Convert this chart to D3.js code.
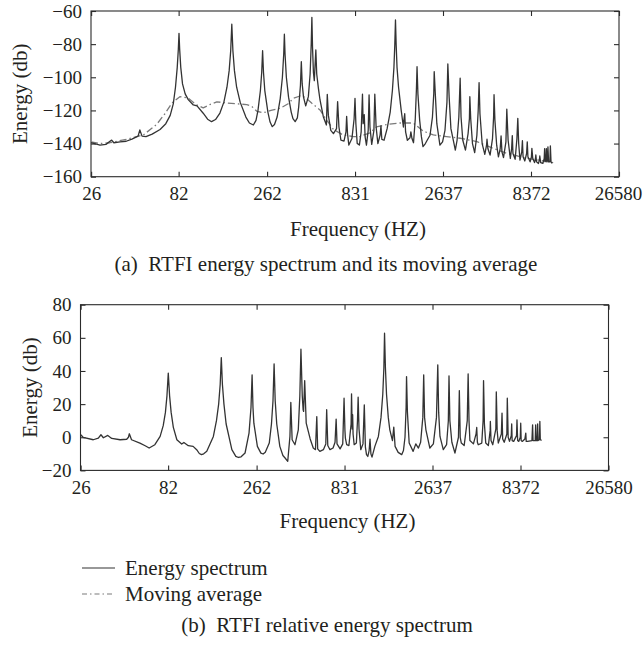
<!DOCTYPE html>
<html><head><meta charset="utf-8">
<script src="https://cdn.jsdelivr.net/npm/d3@7/dist/d3.min.js"></script>
<style>
body{margin:0;background:#fff}
svg{display:block}
text{font-family:"Liberation Serif","Times New Roman",serif;fill:#231f20}
</style>
</head><body>
<svg id="c" width="643" height="648"></svg>
<script>
// ---- data (x as pitch in MIDI note numbers; frequency = 440*2^((p-69)/12) Hz) ----
const tickHz = [26, 82, 262, 831, 2637, 8372, 26580];
const tickLabels = ["26", "82", "262", "831", "2637", "8372", "26580"];
const yTicksA = [-160, -140, -120, -100, -80, -60];
const yTicksB = [-20, 0, 20, 40, 60, 80];
const legendLabels = ["Energy spectrum", "Moving average"];
const captionA = "(a)\u2002RTFI energy spectrum and its moving average";
const captionB = "(b)\u2002RTFI relative energy spectrum";

// (a) energy spectrum [pitch, dB]
const spectrum = [
[20.0,-139.5],[22.05,-140.9],[23.4,-140.5],[24.7,-137.9],[25.2,-139.5],[26.6,-139],[28.0,-138.6],[29.3,-137.3],
[30.7,-135.5],[31.1,-131.8],[31.6,-135.5],[32.5,-135.8],[33.9,-134.3],[35.7,-131.5],[37.0,-128],[38.0,-123],
[38.7,-116],[39.2,-106],[39.6,-94],[39.85,-83],[40.0,-73.5],[40.15,-83],[40.4,-94],[40.8,-104],[41.4,-110],
[42.1,-113.5],[43.25,-116.7],[44.1,-117.3],[45.5,-121.7],[46.5,-125.3],[47.4,-126.8],[48.3,-125.5],[49.3,-121.6],
[50.2,-115],[50.9,-106],[51.4,-96],[51.75,-84],[52.0,-68],[52.25,-84],[52.6,-96],[53.1,-106],[53.9,-115],[55.2,-124],
[56.0,-127.6],[56.9,-128.8],[57.5,-126],[57.95,-120],[58.5,-108],[58.8,-97],[59.0,-84],[59.2,-97],[59.5,-108],
[60.2,-121],[60.7,-127],[61.2,-129.8],[61.7,-128.5],[62.3,-124],[63.0,-113],[63.5,-100],[63.8,-86],[63.95,-74],
[64.1,-86],[64.4,-100],[64.9,-112],[65.5,-121],[65.9,-125],[66.4,-126.8],[66.9,-124.5],[67.2,-118],[67.6,-105],
[67.8,-90.6],[68.0,-104],[68.3,-112],[68.8,-117.3],[69.4,-111.7],[69.8,-98],[70.05,-80],
[70.2,-63.8],[70.35,-82],[70.55,-97],[70.75,-102],[71.1,-83.5],[71.3,-98],[71.7,-107],[72.05,-113.7],[72.8,-123.8],
[73.5,-128.8],[73.7,-110.3],[73.95,-123],[74.5,-132],[75.1,-134],[75.8,-131],[76.05,-114.7],[76.35,-130],[76.8,-138],
[77.5,-138.5],[77.95,-133],[78.1,-123.6],[78.3,-134],[78.6,-140.9],[79.3,-137],[79.8,-125],[80.0,-112.7],[80.2,-128],
[80.5,-139.9],[81.0,-140.9],[81.4,-133],[81.7,-110.2],[81.85,-128],[81.95,-126],[82.1,-122.5],[82.3,-136],[82.6,-140.9],
[83.0,-132],[83.2,-110.6],[83.4,-130],[83.8,-140.5],[84.3,-132],[84.5,-110.2],[84.8,-130],[85.2,-140],[85.7,-135],
[85.9,-129.3],[86.1,-137.5],[86.6,-138],[87.3,-131],[88.0,-121],[88.5,-108],[88.85,-94],[89.05,-80],[89.2,-65.4],
[89.35,-80],[89.55,-94],[89.9,-106],[90.5,-120],[91.0,-130],[91.1,-126],[91.3,-122],[91.5,-133],[91.9,-138],[92.5,-136.5],[92.7,-133],
[92.95,-137],[93.3,-139.5],[93.7,-125],[93.95,-108],[94.1,-93.6],[94.3,-110],[94.7,-126],[95.1,-136],[95.45,-141.9],
[96.0,-140],[96.4,-138],[97.05,-135],[97.6,-124],[97.9,-110],[98.0,-96.6],[98.25,-110],[98.6,-128],[99.3,-141],
[99.9,-139],[100.45,-132],[100.9,-115],[101.1,-92],[101.4,-112],[101.8,-131],[102.5,-140],[102.8,-144],[103.2,-138],
[103.6,-124],[103.9,-100.6],[104.1,-124],[104.5,-138],[105.1,-144],[105.7,-134],[106.0,-125],[106.1,-111.7],[106.3,-125],
[106.7,-140],[107.2,-145.5],[107.7,-135],[108.0,-120],[108.2,-103.2],[108.4,-122],[108.9,-140],[109.5,-146.5],
[109.9,-141],[110.0,-137.4],[110.2,-143],[110.7,-147],[111.25,-137],[111.5,-124],[111.6,-110.5],[111.8,-126],
[112.2,-141],[112.6,-148],[113.0,-143],[113.2,-135.4],[113.4,-145],[113.75,-148.5],[114.3,-139],[114.5,-119.3],
[114.8,-138],[115.3,-149],[115.6,-143],[115.75,-135.2],[115.9,-146],[116.4,-149.5],[116.8,-137],[117.0,-124.8],
[117.2,-140],[117.5,-150],[117.9,-145],[118.05,-138.3],[118.2,-148],[118.6,-150.5],[119.0,-146],[119.15,-139],
[119.3,-148],[119.8,-151],[120.1,-148],[120.2,-142.9],[120.4,-149],[120.8,-151.5],[121.0,-149.5],[121.1,-146.9],
[121.25,-151],[121.7,-152],[121.9,-150],[122.0,-147.5],[122.2,-151.5],[122.7,-152],[123.0,-149],[123.1,-143],
[123.2,-151],[123.4,-150],[123.5,-143],[123.6,-151],[123.75,-150],[123.85,-142],[124.0,-151],[124.3,-151],
[124.4,-141.4],[124.55,-151],[124.8,-152]
];

// (a) moving average [pitch, dB]
const movingAverage = [
[20.0,-139],[22.05,-140],[24.3,-139.5],[28.1,-137.4],[31.9,-134.8],[34.9,-128.5],[36.8,-122],[38.4,-115.5],
[40.2,-111.7],[42.05,-112.5],[43.9,-116.5],[45.5,-118.5],[47.0,-116.5],[48.6,-114.8],[50.8,-115.5],[53.1,-116],
[55.4,-116.5],[56.5,-117.5],[57.7,-120.5],[59.2,-121.4],[60.9,-120],[63.0,-118.7],[64.8,-116],[66.0,-112.7],
[67.5,-111.3],[68.6,-112],[70.2,-115.7],[72.05,-119.7],[73.6,-126],[75.1,-131.5],[77.3,-134.8],[79.6,-135.8],
[81.1,-135.8],[83.4,-133.5],[84.9,-130],[87.2,-128.5],[90.2,-127.6],[93.25,-127.6],[95.5,-132.5],[97.8,-134.8],
[100.8,-135.8],[103.9,-136.8],[107.7,-138.8],[111.4,-142.9],[114.5,-145.9],[117.5,-147.9],[120.5,-149.5],[125.1,-151.5]
];

// (b) relative energy spectrum [pitch, dB]
const relative = [
[20.05,1.5],[20.6,0],[22.9,-1.5],[24.05,-0.5],[24.65,1.5],[25.2,-0.3],[26.2,1.1],[27.1,-0.7],[29.0,-1.5],[30.5,-1.2],
[30.9,0],[31.1,2.1],[31.6,-1.5],[33.5,-3.5],[34.7,-5.1],[35.6,-6.5],[36.9,-4.5],[38.1,0.5],[38.8,7],[39.3,15],
[39.65,25],[39.95,38.7],[40.25,25],[40.6,15],[41.1,6],[41.9,-1.5],[43.0,-4.1],[43.5,-3.1],[44.5,-5.1],[45.6,-5.5],
[46.4,-7.5],[47.0,-9.8],[47.5,-10.5],[48.0,-10],[48.7,-8.5],[50.2,0.5],[50.9,10],[51.4,20],[51.75,32],[52.0,48.1],
[52.25,32],[52.6,20],[53.1,8],[54.4,-7.5],[55.3,-11.5],[55.9,-12.2],[56.5,-11.8],[57.4,-9.5],[58.3,2.5],[58.75,18],
[59.0,37.7],[59.2,18],[59.4,8.5],[60.2,-5.5],[61.0,-9.6],[61.5,-10.1],[62.0,-9],[62.9,-3.5],[63.4,8],[63.75,22],
[64.0,44.3],[64.25,22],[64.6,8],[65.3,-5.5],[66.0,-11],[66.5,-12.5],[67.1,-14.5],
[67.6,0.5],[67.8,21],[68.1,-1.5],[68.75,-4.5],[69.5,4.5],[69.85,25],[70.1,53.1],[70.4,25],[70.6,16.6],[70.7,15.6],
[70.95,34.2],[71.3,8.5],[72.2,-1],[72.9,-6.5],[73.4,-7.5],[73.7,12.5],[73.9,-7],[74.4,-8.5],[75.2,-7.5],[75.75,-4],
[75.95,16.6],[76.2,-5],[76.7,-7.5],[77.4,-6.5],[77.85,-3],[78.1,11],[78.3,-4],[79.0,-7],[79.6,-4],[79.9,23.6],
[80.1,4],[80.2,-0.5],[80.5,-4.5],[81.0,-5],[81.5,8],[81.6,26.2],[81.75,5],[81.85,13.6],[81.95,2],[82.2,-4.5],
[82.7,-3.5],[82.95,10],[83.1,24.2],[83.3,5],[83.7,-7.5],[84.2,-4],[84.5,19.6],[84.75,-6],[85.0,-10.5],[85.3,-11.6],
[85.6,-8],[85.8,-1.1],[86.0,-10],[86.25,-12],[86.9,-5.5],[87.7,0.5],[88.3,12],[88.7,26],[88.95,42],[89.1,62.8],
[89.3,42],[89.55,26],[89.95,12],[90.3,4.5],[90.9,-2],[91.2,6.1],[91.5,-5.5],[92.2,-9.1],[93.0,-10.5],[93.4,-8],
[93.75,0],[94.0,18],[94.1,36.6],[94.3,15],[94.7,-3.5],[95.6,-8.5],[96.2,-4],[96.8,-6.5],[97.3,-3],[97.8,12],
[98.0,37.7],[98.2,12],[98.5,4.5],[99.4,-6.5],[100.2,-4],[100.9,12],[101.2,43.7],[101.4,15],[101.7,0.5],[102.45,-7.5],
[103.2,-4.5],[103.6,10],[103.75,37.1],[103.95,10],[104.4,-3],[105.1,-9.5],[105.9,0],[106.1,28.2],[106.3,0],
[106.55,-3.5],[107.2,-5],[107.9,10],[108.1,38.3],[108.3,10],[108.5,-2],[109.3,-4],[109.9,2],[110.05,5.9],[110.2,-3],
[110.4,-4.5],[111.2,-3.5],[111.5,10],[111.6,34.2],[111.8,8],[112.1,-3.5],[112.7,-5],[113.1,4],[113.15,9.5],[113.3,-2],
[113.7,-4.5],[114.4,5],[114.5,27.4],[114.7,4],[114.95,-3.5],[115.65,2],[115.8,14.6],[115.95,-1],[116.3,-3],[116.9,2],
[117.0,23.6],[117.2,0],[117.5,-2.5],[117.9,1],[118.0,8],[118.1,-2],[118.45,-2.5],[119.1,1],[119.2,10.5],[119.35,-2],
[119.6,-2.5],[119.95,0],[120.05,8.5],[120.15,-2],[120.4,-2.5],[121.0,-1],[121.2,2.5],[121.3,-2.5],[121.6,-2.5],
[122.6,-2],[122.75,7.5],[122.85,-2],[123.35,-2],[123.45,7.5],[123.55,-2],[123.8,-2],[123.9,8],[124.0,-2],[124.3,-1.5],
[124.4,9.5],[124.5,-1.5],[124.8,-1.9]
];

const pitchToHz = p => 440 * Math.pow(2, (p - 69) / 12);

const svg = d3.select("#c");
const FS_TICK = 19, FS_LABEL = 21;
const INK = "#2b2b2b";

function panel(opt) {
  const g = svg.append("g");
  const x = d3.scaleLog().domain([pitchToHz(20), pitchToHz(140)]).range([opt.left, opt.right]);
  const y = d3.scaleLinear().domain(opt.yDomain).range([opt.bottom, opt.top]);

  g.append("rect").attr("x", opt.left).attr("y", opt.top)
    .attr("width", opt.right - opt.left).attr("height", opt.bottom - opt.top)
    .attr("fill", "none").attr("stroke", INK).attr("stroke-width", 1.1);

  const xb = d3.axisBottom(x).tickValues(tickHz).tickFormat((d, i) => tickLabels[i])
    .tickSizeInner(-5).tickSizeOuter(0).tickPadding(10);
  const xt = d3.axisTop(x).tickValues(tickHz).tickFormat("").tickSizeInner(-5).tickSizeOuter(0);
  const yl = d3.axisLeft(y).tickValues(opt.yTicks).tickFormat(d => d < 0 ? "\u2212" + Math.abs(d) : String(d))
    .tickSizeInner(-5).tickSizeOuter(0).tickPadding(9);
  const yr = d3.axisRight(y).tickValues(opt.yTicks).tickFormat("").tickSizeInner(-5).tickSizeOuter(0);

  const axes = [
    [xb, `translate(0,${opt.bottom})`], [xt, `translate(0,${opt.top})`],
    [yl, `translate(${opt.left},0)`], [yr, `translate(${opt.right},0)`]
  ];
  axes.forEach(([ax, tr], k) => {
    const a = g.append("g").attr("transform", tr).call(ax);
    a.select(".domain").remove();
    a.selectAll("line").attr("stroke", INK).attr("stroke-width", 1.1);
    a.selectAll("text").style("font-family", '"Liberation Serif","Times New Roman",serif')
      .style("font-size", FS_TICK + "px").attr("fill", "#231f20");
    if (k === 0) a.selectAll("text").filter((d, i) => i === tickHz.length - 1).attr("dx", opt.lastDx || 0);
  });

  const line = d3.line().x(d => x(pitchToHz(d[0]))).y(d => y(d[1]));
  opt.series.forEach(s => {
    g.append("path").datum(s.data).attr("d", line).attr("fill", "none")
      .attr("stroke", s.color).attr("stroke-width", s.width)
      .attr("stroke-dasharray", s.dash || null).attr("stroke-linejoin", "round");
  });

  g.append("text").attr("transform", `translate(${opt.ylabelX},${(opt.top + opt.bottom) / 2}) rotate(-90)`)
    .attr("text-anchor", "middle").style("font-size", FS_LABEL + "px").text("Energy (db)");
  g.append("text").attr("x", (opt.left + opt.right) / 2 + 3).attr("y", opt.xlabelY)
    .attr("text-anchor", "middle").style("font-size", FS_LABEL + "px").text("Frequency (HZ)");
  return { x, y };
}

const dashDot = "7,3,1.5,3";

panel({
  left: 91, right: 619, top: 11, bottom: 176.7, yDomain: [-160, -60], yTicks: yTicksA,
  ylabelX: 27, xlabelY: 236, lastDx: -1,
  series: [
    { data: movingAverage, color: "#7a7a7a", width: 1.3, dash: dashDot },
    { data: spectrum, color: "#333", width: 1.3 }
  ]
});

panel({
  left: 80.5, right: 608.5, top: 304.7, bottom: 470.4, yDomain: [-20, 80], yTicks: yTicksB,
  ylabelX: 37, xlabelY: 528,
  series: [{ data: relative, color: "#333", width: 1.3 }]
});

svg.append("text").attr("x", 326).attr("y", 271).attr("text-anchor", "middle")
  .style("font-size", FS_LABEL + "px").text(captionA);
svg.append("text").attr("x", 327).attr("y", 632).attr("text-anchor", "middle")
  .style("font-size", FS_LABEL + "px").text(captionB);

const legend = svg.append("g");
const legendStyles = [{ color: "#333", dash: null }, { color: "#7a7a7a", dash: "5,3,1.5,3" }];
legendLabels.forEach((lab, i) => {
  const yy = 568 + i * 26;
  legend.append("line").attr("x1", 82).attr("x2", 115).attr("y1", yy).attr("y2", yy)
    .attr("stroke", legendStyles[i].color).attr("stroke-width", 1.2)
    .attr("stroke-dasharray", legendStyles[i].dash);
  legend.append("text").attr("x", 125).attr("y", yy + 7).style("font-size", FS_LABEL + "px").text(lab);
});
</script>
</body></html>
